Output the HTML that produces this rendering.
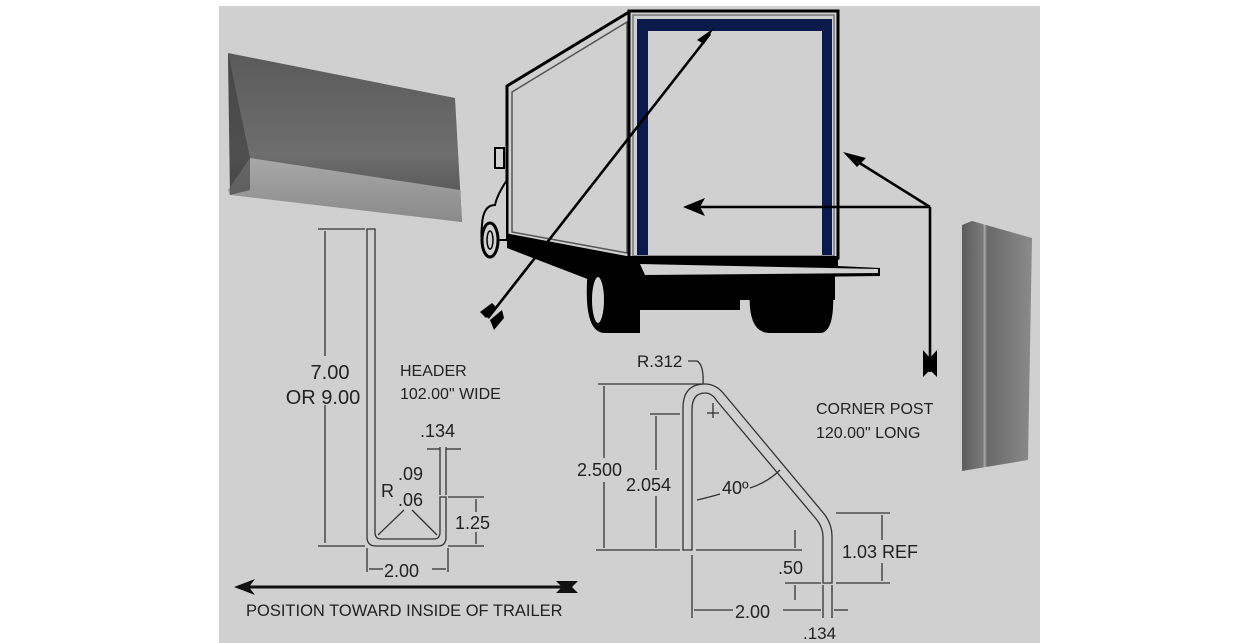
<!DOCTYPE html>
<html><head><meta charset="utf-8"><style>
html,body{margin:0;padding:0;background:#fff;}
svg{display:block;}
text{font-family:"Liberation Sans",Arial,sans-serif;fill:#222;}
</style></head><body>
<svg width="1241" height="643" viewBox="0 0 1241 643" xmlns="http://www.w3.org/2000/svg">
<defs>
<linearGradient id="hg" x1="0" y1="0" x2="0" y2="1">
<stop offset="0" stop-color="#5a5a5a"/><stop offset="0.6" stop-color="#6e6e6e"/><stop offset="1" stop-color="#4a4a4a"/>
</linearGradient>
<linearGradient id="lip" x1="0" y1="0" x2="0" y2="1">
<stop offset="0" stop-color="#a8a8a8"/><stop offset="1" stop-color="#8a8a8a"/>
</linearGradient>
<linearGradient id="cp" x1="0" y1="0" x2="1" y2="0">
<stop offset="0" stop-color="#5c5c5c"/><stop offset="0.3" stop-color="#7a7a7a"/><stop offset="0.32" stop-color="#aaa"/><stop offset="0.36" stop-color="#6a6a6a"/><stop offset="1" stop-color="#8a8a8a"/>
</linearGradient>
</defs>
<rect x="219" y="6" width="821" height="637" fill="#d0d0d0"/>

<!-- header image -->
<polygon points="228,53 455,98 462,222 230,192" fill="url(#hg)"/>
<polygon points="250,158 460,190 462,222 230,195 228,190" fill="url(#lip)"/>
<polygon points="228,53 250,158 250,190 230,195" fill="#3a3a3a" opacity="0.6"/>

<!-- header profile -->
<g fill="none" stroke="#333" stroke-width="1.3">
<path d="M367,229 V537 Q367,546 376,546 H438 Q446,546 446,537 V497 H440 V532 Q440,539 434,539 H381 Q375,539 375,532 V229 Z"/>
<line x1="325" y1="231" x2="325" y2="356"/><line x1="325" y1="405" x2="325" y2="543"/>
<line x1="318" y1="229" x2="365" y2="229"/><line x1="318" y1="546" x2="365" y2="546"/>
<line x1="440" y1="447" x2="440" y2="495"/><line x1="446" y1="447" x2="446" y2="495"/>
<line x1="427" y1="449" x2="440" y2="449"/><line x1="446" y1="449" x2="461" y2="449"/>
<line x1="404" y1="510" x2="378" y2="535"/><line x1="412" y1="510" x2="437" y2="535"/>
<line x1="448" y1="497" x2="484" y2="497"/><line x1="448" y1="546" x2="484" y2="546"/>
<line x1="476" y1="499" x2="476" y2="512"/><line x1="476" y1="532" x2="476" y2="544"/>
<line x1="367" y1="548" x2="367" y2="572"/><line x1="448" y1="548" x2="448" y2="572"/>
<line x1="369" y1="569" x2="383" y2="569"/><line x1="432" y1="569" x2="446" y2="569"/>
</g>
<text x="330" y="379" font-size="20" text-anchor="middle">7.00</text>
<text x="323" y="404" font-size="20" text-anchor="middle">OR 9.00</text>
<text x="400" y="376" font-size="16">HEADER</text>
<text x="400" y="399" font-size="16">102.00" WIDE</text>
<text x="420" y="437" font-size="18">.134</text>
<text x="381" y="497" font-size="18">R</text>
<text x="398" y="480" font-size="18">.09</text>
<text x="398" y="506" font-size="18">.06</text>
<text x="455" y="529" font-size="18">1.25</text>
<text x="384" y="577" font-size="18">2.00</text>

<!-- big arrow -->
<line x1="240" y1="587" x2="570" y2="587" stroke="#111" stroke-width="3"/>
<polygon points="234,587 255,579 249,587 255,595" fill="#111"/>
<polygon points="556,581 578,581 572,587 578,593 556,593 562,587" fill="#111"/>
<text x="246" y="616" font-size="16.5">POSITION TOWARD INSIDE OF TRAILER</text>

<!-- truck -->
<polygon points="507,235 629,258 629,295 507,248" fill="#000"/>
<path d="M588,268 Q582,333 605,333 L640,333 L640,280 Z" fill="#000"/>
<ellipse cx="598" cy="300" rx="7" ry="24" fill="#d0d0d0" stroke="#000" stroke-width="2"/>
<rect x="629" y="270" width="206" height="30" fill="#000"/>
<path d="M750,290 Q747,333 770,333 L820,333 Q835,333 833,290 Z" fill="#000"/>
<rect x="640" y="295" width="100" height="15" fill="#000"/>
<polygon points="629,258 838,258 838,266 880,268 880,276 640,279 629,270" fill="#000"/>
<polygon points="640,264 878,269 878,273 645,275" fill="#d0d0d0"/>
<!-- side -->
<polygon points="507,86 629,12 629,258 507,235" fill="#d0d0d0" stroke="#000" stroke-width="3"/>
<polygon points="512,92 627,22 627,253 512,232" fill="none" stroke="#555" stroke-width="1.5"/>
<!-- rear -->
<rect x="629" y="11" width="209" height="247" fill="#d0d0d0" stroke="#000" stroke-width="3"/>
<rect x="633" y="15" width="201" height="241" fill="none" stroke="#777" stroke-width="1.5"/>
<path d="M637,19 H832 V255 H822 V31 H648 V255 H637 Z" fill="#0a1a4a"/>
<line x1="629" y1="258" x2="838" y2="258" stroke="#000" stroke-width="4"/>
<!-- cab -->
<rect x="495" y="148" width="9" height="20" fill="#d0d0d0" stroke="#000" stroke-width="2"/>
<path d="M507,180 Q497,195 495,205 Q483,205 482,225 Q480,245 485,240 L507,240 Z" fill="#d0d0d0" stroke="#000" stroke-width="2"/>
<ellipse cx="490" cy="240" rx="8" ry="17" fill="#d0d0d0" stroke="#000" stroke-width="3"/>
<ellipse cx="490" cy="240" rx="3" ry="9" fill="none" stroke="#000" stroke-width="1.5"/>

<!-- arrows on truck -->
<g stroke="#000" stroke-width="2.6" fill="none">
<line x1="488" y1="318" x2="710" y2="34"/>
<line x1="930" y1="207" x2="692" y2="207"/>
<line x1="930" y1="207" x2="850" y2="157"/>
<line x1="930" y1="207" x2="930" y2="372"/>
</g>
<polygon points="714,28 697,40 704,44" fill="#000"/>
<polygon points="683,207 705,198 700,207 705,216" fill="#000"/>
<polygon points="843,152 866,158 857,167" fill="#000"/>
<polygon points="480,312 492,303 497,308 486,318" fill="#000"/>
<polygon points="490,320 502,310 504,318 494,330" fill="#000"/>
<polygon points="923,350 930,358 937,350 937,377 930,370 923,377" fill="#000"/>

<!-- corner post image -->
<polygon points="962,225 972,221 1032,238 1028,460 962,471" fill="url(#cp)"/>

<!-- corner post profile -->
<g fill="none" stroke="#333" stroke-width="1.3">
<path d="M683,550 V408 Q683,384 705,384 Q716,384 724,394 L825,515 Q832,525 832,536 V583 H823 V537 Q823,528 817,520 L717,401 Q712,393 705,393 Q692,393 692,410 V550 Z"/>
<line x1="598" y1="384" x2="702" y2="384"/>
<line x1="596" y1="550" x2="680" y2="550"/><line x1="696" y1="550" x2="802" y2="550"/>
<line x1="604" y1="386" x2="604" y2="458"/><line x1="604" y1="482" x2="604" y2="548"/>
<line x1="650" y1="414" x2="680" y2="414"/>
<line x1="656" y1="416" x2="656" y2="470"/><line x1="656" y1="496" x2="656" y2="548"/>
<path d="M697,500 Q710,497 720,494"/><path d="M750,488 Q768,482 780,470"/>
<path d="M688,361 H697 Q704,365 703,384"/>
<line x1="713" y1="403" x2="713" y2="418"/><line x1="707" y1="413" x2="719" y2="413"/>
<line x1="795" y1="530" x2="795" y2="548"/>
<line x1="795" y1="585" x2="795" y2="600"/>
<line x1="785" y1="583" x2="821" y2="583"/><line x1="836" y1="583" x2="890" y2="583"/>
<line x1="836" y1="513" x2="890" y2="513"/>
<line x1="882" y1="515" x2="882" y2="540"/><line x1="882" y1="563" x2="882" y2="581"/>
<line x1="692" y1="555" x2="692" y2="618"/>
<line x1="823" y1="585" x2="823" y2="618"/><line x1="832" y1="585" x2="832" y2="618"/>
<line x1="694" y1="610" x2="733" y2="610"/><line x1="783" y1="610" x2="821" y2="610"/>
<line x1="834" y1="610" x2="848" y2="610"/>
</g>
<text x="637" y="367" font-size="17">R.312</text>
<text x="577" y="476" font-size="18">2.500</text>
<text x="626" y="491" font-size="18">2.054</text>
<text x="722" y="494" font-size="18">40º</text>
<text x="778" y="574" font-size="18">.50</text>
<text x="842" y="558" font-size="18">1.03 REF</text>
<text x="735" y="618" font-size="18">2.00</text>
<text x="803" y="639" font-size="17">.134</text>
<text x="816" y="414" font-size="16">CORNER POST</text>
<text x="816" y="438" font-size="16">120.00" LONG</text>
</svg>
</body></html>
